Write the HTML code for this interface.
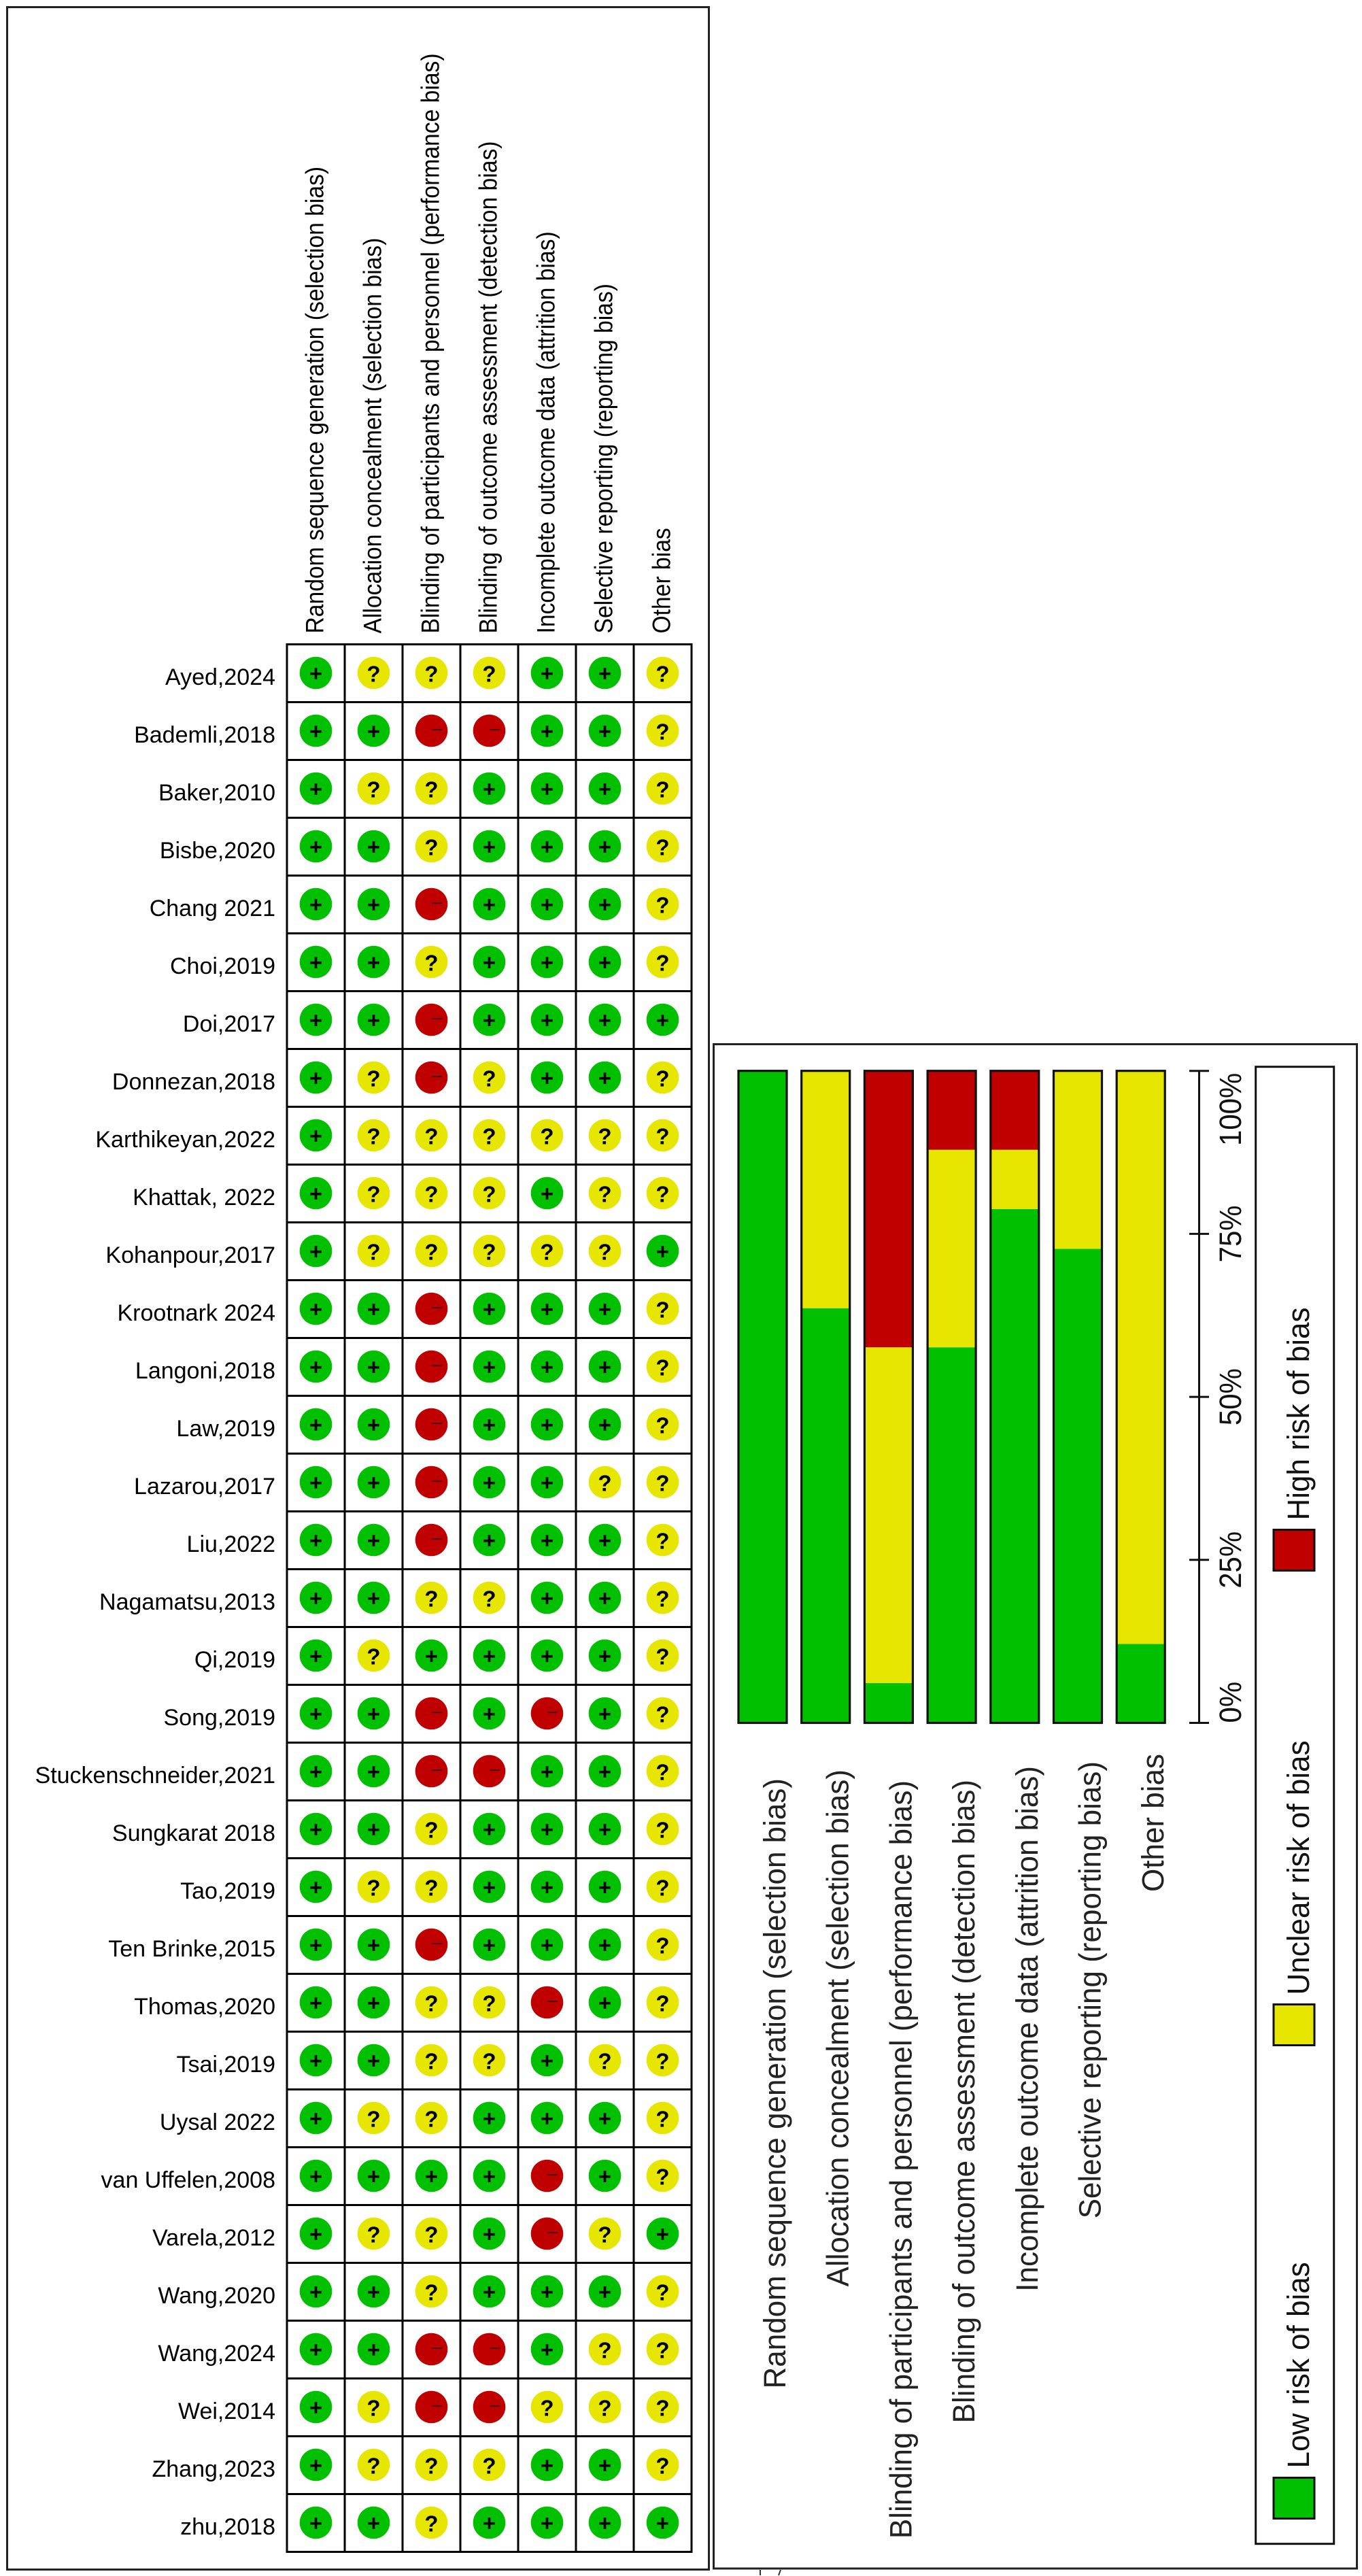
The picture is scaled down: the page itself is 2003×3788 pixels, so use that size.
<!DOCTYPE html>
<html lang="en">
<head>
<meta charset="utf-8">
<title>Risk of bias summary and graph</title>
<style>
html,body{margin:0;padding:0;background:#fff;}
body{width:2003px;height:3788px;overflow:hidden;}
svg{display:block;}
text{font-family:"Liberation Sans",Arial,sans-serif;fill:#000;}
</style>
</head>
<body>
<svg id="figure" xmlns="http://www.w3.org/2000/svg" width="2003" height="3788" viewBox="0 0 2003 3788">
  <rect x="0" y="0" width="2003" height="3788" fill="#fff"/>
  <rect x="10.5" y="10.5" width="1032" height="3768" fill="none" stroke="#222" stroke-width="3"/>
  <rect x="1049.5" y="1535.5" width="946" height="2241.5" fill="none" stroke="#222" stroke-width="3"/>
  <path d="M1118 3779v8M1148 3779l-3 8" fill="none" stroke="#333" stroke-width="2"/>
  <g id="summary"></g>
  <g id="graph"></g>
</svg>
<script>
const domains = [
  "Random sequence generation (selection bias)",
  "Allocation concealment (selection bias)",
  "Blinding of participants and personnel (performance bias)",
  "Blinding of outcome assessment (detection bias)",
  "Incomplete outcome data (attrition bias)",
  "Selective reporting (reporting bias)",
  "Other bias"
];
const studies = [
  "Ayed,2024","Bademli,2018","Baker,2010","Bisbe,2020","Chang 2021","Choi,2019","Doi,2017","Donnezan,2018",
  "Karthikeyan,2022","Khattak, 2022","Kohanpour,2017","Krootnark 2024","Langoni,2018","Law,2019","Lazarou,2017",
  "Liu,2022","Nagamatsu,2013","Qi,2019","Song,2019","Stuckenschneider,2021","Sungkarat 2018","Tao,2019",
  "Ten Brinke,2015","Thomas,2020","Tsai,2019","Uysal 2022","van Uffelen,2008","Varela,2012","Wang,2020",
  "Wang,2024","Wei,2014","Zhang,2023","zhu,2018"
];
const judgments = [
  "+???++?","++--++?","+??+++?","++?+++?","++-+++?","++?+++?","++-++++","+?-?++?",
  "+??????","+???+??","+?????+","++-+++?","++-+++?","++-+++?","++-++??",
  "++-+++?","++??++?","+?++++?","++-+-+?","++--++?","++?+++?","+??+++?",
  "++-+++?","++??-+?","++??+??","+??+++?","++++-+?","+??+-?+","++?+++?",
  "++--+??","+?--???","+???++?","++?++++"
];
const lowRisk = [100, 63.6, 6.1, 57.6, 78.8, 72.7, 12.1];
const unclearRisk = [0, 36.4, 51.5, 30.3, 9.1, 27.3, 87.9];
const highRisk = [0, 0, 42.4, 12.1, 12.1, 0, 0];
const tickValues = [0, 25, 50, 75, 100];
const tickLabels = ["0%", "25%", "50%", "75%", "100%"];
const legendLabels = ["Low risk of bias", "Unclear risk of bias", "High risk of bias"];

const NS = "http://www.w3.org/2000/svg";
const GREEN = "#00c000", YELLOW = "#e6e600", RED = "#c00000";

function make(parent, tag, attrs, content) {
  const el = document.createElementNS(NS, tag);
  for (const k in attrs) el.setAttribute(k, attrs[k]);
  if (content !== undefined) el.textContent = content;
  parent.appendChild(el);
  return el;
}
/* rotated text: the reference glyphs are slightly compressed along the reading direction */
function upText(parent, x, y, str, size, sx, anchor, fill) {
  return make(parent, "text", {
    x: 0, y: 0, "font-size": size, "text-anchor": anchor,
    transform: "translate(" + x + " " + y + ") rotate(-90) scale(" + sx + " 1)",
    style: "fill:" + fill
  }, str);
}

/* ---------- summary grid ---------- */
const summary = document.getElementById("summary");
const GRID_LEFT = 422, GRID_TOP = 947.5, CELL = 85;
const colX = i => GRID_LEFT + i * CELL;
const rowY = r => GRID_TOP + r * CELL;
const symbolFill = { "+": GREEN, "?": YELLOW, "-": RED };
const symbolName = { "+": "low-risk", "?": "unclear-risk", "-": "high-risk" };

domains.forEach((d, i) => {
  const t = upText(summary, colX(i) + 53.5, 931.5, d, 37, 0.91, "start", "#000");
  
  
});

studies.forEach((s, r) => {
  const cy = rowY(r) + CELL / 2 - 0.5;
  const label = make(summary, "text", {
    x: 405, y: cy + 17.5, "font-size": 34, "text-anchor": "end"
  }, s);
  
  

  const row = judgments[r];
  for (let c = 0; c < domains.length; c++) {
    const j = row[c];
    const cx = colX(c) + CELL / 2;
    const dot = make(summary, "circle", { cx: cx, cy: cy, r: 23.8, fill: symbolFill[j] });
    
    
    let glyph;
    if (j === "+") {
      glyph = make(summary, "text", {
        x: cx, y: cy + 12, "font-size": 33, "font-weight": "bold", "text-anchor": "middle"
      }, "+");
    } else if (j === "?") {
      glyph = make(summary, "text", {
        x: cx, y: cy + 13, "font-size": 33, "font-weight": "bold", "text-anchor": "middle"
      }, "?");
    } else {
      glyph = make(summary, "text", {
        x: cx + 8, y: cy + 8.5, "font-size": 30, "text-anchor": "middle", style: "fill:#4a0000"
      }, "\u2212");
    }
    
    
  }
});

for (let r = 0; r <= studies.length; r++) {
  const h = make(summary, "line", {
    x1: GRID_LEFT - 1.5, x2: colX(domains.length) + 1.5, y1: rowY(r), y2: rowY(r), stroke: "#000", "stroke-width": 3
  });
  
  
}
for (let c = 0; c <= domains.length; c++) {
  const v = make(summary, "line", {
    x1: colX(c), x2: colX(c), y1: GRID_TOP - 1.5, y2: rowY(studies.length) + 1.5, stroke: "#000", "stroke-width": 3
  });
  
  
}

/* ---------- stacked bar graph ---------- */
const graph = document.getElementById("graph");
const AXIS_ZERO = 2533.5, AXIS_FULL = 1574.7;
const yScale = v => AXIS_ZERO + (AXIS_FULL - AXIS_ZERO) * v / 100;
const BAR_LEFT = 1086, BAR_STEP = 92.7, BAR_W = 71;
const barX = i => BAR_LEFT + i * BAR_STEP;
const labelEndY = [2615, 2602, 2618, 2617, 2597, 2590, 2579];

domains.forEach((d, i) => {
  let acc = 0;
  [[lowRisk, GREEN, "low"], [unclearRisk, YELLOW, "unclear"], [highRisk, RED, "high"]].forEach(spec => {
    const v = spec[0][i];
    if (v > 0) {
      const seg = make(graph, "rect", {
        x: barX(i), y: yScale(acc + v), width: BAR_W, height: yScale(acc) - yScale(acc + v), fill: spec[1]
      });
      
      
    }
    acc += v;
  });
  const outline = make(graph, "rect", {
    x: barX(i), y: yScale(acc), width: BAR_W, height: yScale(0) - yScale(acc),
    fill: "none", stroke: "#111", "stroke-width": 3.2
  });
  
  

  const lab = upText(graph, barX(i) + 69, labelEndY[i], d, 45.6, 0.965, "end", "#222");
  
  
});

const AXIS_X = 1763.5;
const axisLine = make(graph, "line", {
  x1: AXIS_X, x2: AXIS_X, y1: yScale(0), y2: yScale(100), stroke: "#111", "stroke-width": 3
});



tickValues.forEach((v, i) => {
  const tick = make(graph, "line", {
    x1: 1749, x2: 1778, y1: yScale(v), y2: yScale(v), stroke: "#111", "stroke-width": 3
  });
  
  
  const anchor = i === 0 ? "start" : (i === tickValues.length - 1 ? "end" : "middle");
  const offset = i === tickValues.length - 1 ? 3 : 0;
  const tl = upText(graph, 1825, yScale(v) + offset, tickLabels[i], 45.6, 0.92, anchor, "#111");
  
  
});

/* ---------- legend ---------- */
const legendBox = make(graph, "rect", {
  x: 1846.7, y: 1568.7, width: 115, height: 2172, fill: "none", stroke: "#111", "stroke-width": 3
});


const legendColors = [GREEN, YELLOW, RED];
const legendSwatchY = [3643.5, 2947.5, 2249.5];
legendLabels.forEach((l, i) => {
  const sw = make(graph, "rect", {
    x: 1873, y: legendSwatchY[i], width: 60, height: 60, fill: legendColors[i], stroke: "#111", "stroke-width": 3
  });
  
  
  const t = upText(graph, 1925, legendSwatchY[i] - 14, l, 45.6, 0.965, "start", "#111");
  
  
});
</script>
</body>
</html>
